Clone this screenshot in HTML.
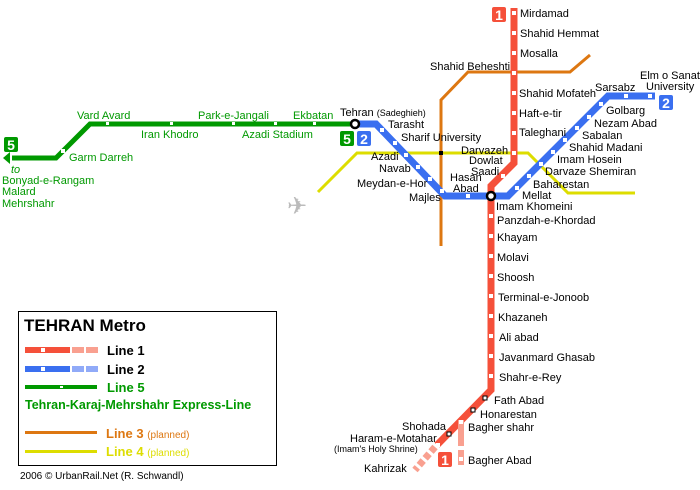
<!DOCTYPE html>
<html><head><meta charset="utf-8"><style>
html,body{margin:0;padding:0;background:#fff;}
svg{display:block;}
text{font-family:"Liberation Sans",sans-serif;}
</style></head><body>
<svg width="700" height="490" viewBox="0 0 700 490" xmlns="http://www.w3.org/2000/svg" font-size="11">
<rect width="700" height="490" fill="#fff"/>
<polyline points="441,246 441,100 468,72 570,72 590,55" fill="none" stroke="#dd7711" stroke-width="3"/>
<polyline points="318,192 357,153 528,153 568,193 635,193" fill="none" stroke="#dddd00" stroke-width="3"/>
<rect x="439" y="151" width="4" height="4" fill="#000"/>
<polyline points="12,158 56,158 90,124 356,124" fill="none" stroke="#009900" stroke-width="5"/>
<polygon points="3,158 10,152 10,164" fill="#009900"/>
<polyline points="514,8 514,163 491,186 491,390 437,445" fill="none" stroke="#f5503a" stroke-width="7"/>
<line x1="435" y1="447" x2="415" y2="470" stroke="#f9a090" stroke-width="7" stroke-dasharray="6,3"/>
<line x1="461" y1="420" x2="461" y2="446" stroke="#f9a090" stroke-width="6"/>
<line x1="461" y1="450" x2="461" y2="465" stroke="#f9a090" stroke-width="6"/>
<polyline points="356,124 376,124 445,196 508,196 608,96 655,96" fill="none" stroke="#3a6ff0" stroke-width="7"/>
<g fill="#fff">
<rect x="512" y="11" width="4" height="4"/><rect x="512" y="31" width="4" height="4"/><rect x="512" y="51" width="4" height="4"/><rect x="512" y="71" width="4" height="4"/><rect x="512" y="91" width="4" height="4"/><rect x="512" y="111" width="4" height="4"/><rect x="512" y="131" width="4" height="4"/><rect x="512" y="151" width="4" height="4"/>
<rect x="501" y="174" width="4" height="4"/>
<rect x="489" y="214" width="4" height="4"/><rect x="489" y="234" width="4" height="4"/><rect x="489" y="254" width="4" height="4"/><rect x="489" y="274" width="4" height="4"/><rect x="489" y="294" width="4" height="4"/><rect x="489" y="314" width="4" height="4"/><rect x="489" y="334" width="4" height="4"/><rect x="489" y="354" width="4" height="4"/><rect x="489" y="374" width="4" height="4"/>
<rect x="459" y="420" width="4" height="4"/><rect x="459" y="457" width="4" height="4"/><rect x="436" y="443" width="4" height="4"/>
<rect x="380" y="128" width="4" height="4"/><rect x="393" y="141" width="4" height="4"/><rect x="404" y="153" width="4" height="4"/><rect x="416" y="165" width="4" height="4"/><rect x="428" y="177" width="4" height="4"/><rect x="440" y="189" width="4" height="4"/><rect x="466" y="194" width="4" height="4"/>
<rect x="515" y="186" width="4" height="4"/><rect x="527" y="174" width="4" height="4"/><rect x="539" y="162" width="4" height="4"/><rect x="551" y="150" width="4" height="4"/><rect x="563" y="138" width="4" height="4"/><rect x="575" y="126" width="4" height="4"/><rect x="587" y="115" width="4" height="4"/><rect x="599" y="102" width="4" height="4"/><rect x="624" y="94" width="4" height="4"/><rect x="648" y="94" width="4" height="4"/>
<rect x="61" y="149" width="4" height="4"/><rect x="106" y="122" width="3" height="3"/><rect x="170" y="122" width="3" height="3"/><rect x="232" y="122" width="3" height="3"/><rect x="274" y="122" width="3" height="3"/><rect x="313" y="122" width="3" height="3"/>
</g>
<g fill="#fff" stroke="#000" stroke-width="1"><rect x="483" y="396" width="4" height="4"/><rect x="471" y="408" width="4" height="4"/><rect x="447" y="432" width="4" height="4"/></g>
<circle cx="355" cy="124" r="4" fill="#fff" stroke="#000" stroke-width="2.5"/>
<circle cx="491" cy="196" r="4" fill="#fff" stroke="#000" stroke-width="2.5"/>
<g font-size="14" font-weight="bold" fill="#fff" text-anchor="middle">
<rect x="492" y="7" width="14" height="15" rx="2" fill="#f5503a"/><text x="499" y="20">1</text>
<rect x="438" y="452" width="14" height="15" rx="2" fill="#f5503a"/><text x="445" y="465">1</text>
<rect x="659" y="95" width="14" height="15" rx="2" fill="#3a6ff0"/><text x="666" y="108">2</text>
<rect x="357" y="131" width="14" height="15" rx="2" fill="#3a6ff0"/><text x="364" y="144">2</text>
<rect x="340" y="131" width="14" height="15" rx="2" fill="#009900"/><text x="347" y="144">5</text>
<rect x="4" y="137" width="14" height="15" rx="2" fill="#009900"/><text x="11" y="150">5</text>
</g>
<text x="287" y="214" fill="#bbb" font-size="24" font-family="DejaVu Sans">✈</text>
<g fill="#000">
<text x="520" y="17">Mirdamad</text><text x="520" y="37">Shahid Hemmat</text><text x="520" y="57">Mosalla</text>
<text x="430" y="70">Shahid Beheshti</text>
<text x="519" y="97">Shahid Mofateh</text><text x="519" y="117">Haft-e-tir</text><text x="519" y="136">Taleghani</text>
<text x="461" y="154">Darvazeh</text><text x="469" y="164">Dowlat</text><text x="471" y="175">Saadi</text>
<text x="496" y="210">Imam Khomeini</text>
<text x="497" y="224">Panzdah-e-Khordad</text><text x="497" y="241">Khayam</text><text x="497" y="261">Molavi</text><text x="497" y="281">Shoosh</text><text x="498" y="301">Terminal-e-Jonoob</text><text x="498" y="321">Khazaneh</text><text x="499" y="341">Ali abad</text><text x="499" y="361">Javanmard Ghasab</text><text x="499" y="381">Shahr-e-Rey</text>
<text x="494" y="404">Fath Abad</text><text x="480" y="418">Honarestan</text><text x="468" y="431">Bagher shahr</text><text x="468" y="464">Bagher Abad</text>
<text x="402" y="430">Shohada</text><text x="350" y="442">Haram-e-Motahar</text><text x="334" y="452" font-size="9">(Imam's Holy Shrine)</text><text x="364" y="472">Kahrizak</text>
<text x="340" y="116">Tehran <tspan font-size="9">(Sadeghieh)</tspan></text>
<text x="388" y="128">Tarasht</text><text x="401" y="141">Sharif University</text>
<text x="371" y="160">Azadi</text><text x="379" y="172">Navab</text><text x="357" y="187">Meydan-e-Hor</text><text x="409" y="201">Majles</text>
<text x="450" y="181">Hasan</text><text x="453" y="192">Abad</text>
<text x="522" y="199">Mellat</text><text x="533" y="188">Baharestan</text><text x="545" y="175">Darvaze Shemiran</text><text x="557" y="163">Imam Hosein</text><text x="569" y="151">Shahid Madani</text><text x="582" y="139">Sabalan</text><text x="594" y="127">Nezam Abad</text><text x="606" y="114">Golbarg</text>
<text x="595" y="91">Sarsabz</text><text x="640" y="79">Elm o Sanat</text><text x="646" y="90">University</text>
</g>
<g fill="#009900">
<text x="77" y="119">Vard Avard</text><text x="141" y="138">Iran Khodro</text><text x="198" y="119">Park-e-Jangali</text><text x="242" y="138">Azadi Stadium</text><text x="293" y="119">Ekbatan</text>
<text x="69" y="161">Garm Darreh</text>
<text x="11" y="173" font-style="italic">to</text><text x="2" y="184">Bonyad-e-Rangam</text><text x="2" y="195">Malard</text><text x="2" y="207">Mehrshahr</text>
</g>
<rect x="18.5" y="311.5" width="258" height="154" fill="none" stroke="#000" stroke-width="1"/>
<text x="24" y="331" font-size="17" font-weight="bold">TEHRAN Metro</text>
<rect x="25" y="347" width="45" height="6" fill="#f5503a"/><rect x="72" y="347" width="12" height="6" fill="#f9a090"/><rect x="86" y="347" width="12" height="6" fill="#f9a090"/><rect x="41" y="348" width="4" height="4" fill="#fff"/>
<rect x="25" y="366" width="45" height="6" fill="#3a6ff0"/><rect x="72" y="366" width="12" height="6" fill="#90aaf8"/><rect x="86" y="366" width="12" height="6" fill="#90aaf8"/><rect x="41" y="367" width="4" height="4" fill="#fff"/>
<rect x="25" y="385" width="72" height="4" fill="#009900"/><rect x="60" y="386" width="3" height="2" fill="#fff"/>
<text x="107" y="355" font-size="13" font-weight="bold">Line 1</text>
<text x="107" y="374" font-size="13" font-weight="bold">Line 2</text>
<text x="107" y="392" font-size="13" font-weight="bold" fill="#009900">Line 5</text>
<text x="25" y="409" font-size="12.5" font-weight="bold" fill="#009900">Tehran-Karaj-Mehrshahr Express-Line</text>
<rect x="25" y="431" width="72" height="3" fill="#dd7711"/><rect x="25" y="450" width="72" height="3" fill="#dddd00"/>
<text x="106" y="438" font-size="13" font-weight="bold" fill="#dd7711">Line 3 <tspan font-size="10" font-weight="normal">(planned)</tspan></text>
<text x="106" y="456" font-size="13" font-weight="bold" fill="#dddd00">Line 4 <tspan font-size="10" font-weight="normal">(planned)</tspan></text>
<text x="20" y="479" font-size="10">2006 © UrbanRail.Net (R. Schwandl)</text>
</svg>
</body></html>
